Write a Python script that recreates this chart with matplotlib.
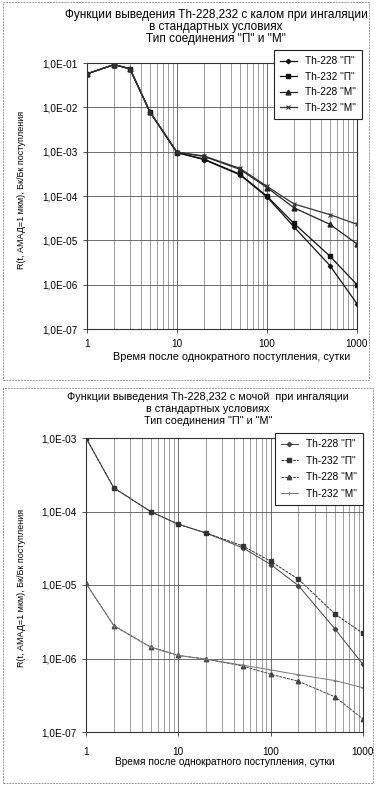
import numpy as np
import matplotlib.pyplot as plt
from matplotlib.patches import Rectangle
from matplotlib.ticker import FixedLocator, LogLocator, NullFormatter

plt.rcParams['font.family'] = ['Liberation Sans', 'DejaVu Sans']

# Data, top chart (with feces).
tTop = [1, 2, 3, 5, 10, 20, 50, 100, 200, 500, 1000]
th228P_top = [5.7e-2, 9.2e-2, 7.4e-2, 7.9e-3, 9.5e-4, 6.6e-4, 3.0e-4, 9.5e-5, 2.0e-5, 2.7e-6, 3.7e-7]
th232P_top = [5.7e-2, 9.2e-2, 7.4e-2, 7.9e-3, 9.5e-4, 6.8e-4, 3.1e-4, 9.9e-5, 2.4e-5, 4.4e-6, 1.0e-6]
th228M_top = [5.7e-2, 9.2e-2, 7.4e-2, 7.9e-3, 9.7e-4, 7.8e-4, 4.0e-4, 1.55e-4, 5.4e-5, 2.3e-5, 8.3e-6]
th232M_top = [5.7e-2, 9.2e-2, 7.4e-2, 7.9e-3, 9.7e-4, 8.0e-4, 4.2e-4, 1.65e-4, 6.6e-5, 3.8e-5, 2.3e-5]

# Data, bottom chart (with urine).
tBot = [1, 2, 5, 10, 20, 50, 100, 200, 500, 1000]
th228P_bot = [1.0e-3, 2.1e-4, 1.0e-4, 6.7e-5, 5.1e-5, 3.2e-5, 1.9e-5, 9.8e-6, 2.5e-6, 8.3e-7]
th232P_bot = [1.0e-3, 2.1e-4, 1.0e-4, 6.7e-5, 5.1e-5, 3.4e-5, 2.1e-5, 1.2e-5, 4.0e-6, 2.2e-6]
th228M_bot = [1.05e-5, 2.8e-6, 1.43e-6, 1.1e-6, 9.8e-7, 7.9e-7, 6.1e-7, 4.9e-7, 3.0e-7, 1.5e-7]
th232M_bot = [1.05e-5, 2.8e-6, 1.43e-6, 1.1e-6, 9.8e-7, 8.1e-7, 7.0e-7, 6.0e-7, 5.0e-7, 4.0e-7]

labels = ['Th-228 "П"', 'Th-232 "П"', 'Th-228 "М"', 'Th-232 "М"']
xLabel = 'Время после однократного поступления, сутки'
yLabel = 'R(t, АМАД=1 мкм), Бк/Бк поступления'
titleTop = ['Функции выведения Th-228,232 с калом при ингаляции',
            'в стандартных условиях', 'Тип соединения "П" и "М"']
titleBot = ['Функции выведения Th-228,232 с мочой  при ингаляции',
            'в стандартных условиях', 'Тип соединения "П" и "М"']

W, H = 382, 792
fig = plt.figure(figsize=(W / 100, H / 100), dpi=100)

# Chart frames (pixel boxes converted to figure fractions).
for x0, y0, x1, y1 in [(3, 2, 369, 380), (3, 388, 373, 783)]:
    fig.patches.append(Rectangle((x0 / W, 1 - y1 / H), (x1 - x0) / W, (y1 - y0) / H,
                                 transform=fig.transFigure, fill=False,
                                 ec='#999999', lw=0.7, ls=(0, (2, 1))))


def setup(ax, ymin, ymax, yticks, xpad):
    ax.set_xscale('log')
    ax.set_yscale('log')
    ax.set_xlim(1, 1000)
    ax.set_ylim(ymin, ymax)
    ax.xaxis.set_major_locator(FixedLocator([1, 10, 100, 1000]))
    ax.xaxis.set_minor_locator(LogLocator(base=10, subs=np.arange(2, 10)))
    ax.xaxis.set_minor_formatter(NullFormatter())
    ax.set_xticklabels(['1', '10', '100', '1000'])
    ax.yaxis.set_major_locator(FixedLocator(yticks))
    ax.yaxis.set_minor_locator(FixedLocator([]))
    ax.set_yticklabels(['1,0E-%02d' % int(round(-np.log10(v))) for v in yticks])
    ax.grid(True, which='major', axis='both', color='#555555', lw=0.6)
    ax.grid(True, which='minor', axis='x', color='#777777', lw=0.5)
    ax.tick_params(axis='both', which='both', labelsize=7.2, length=3, width=0.6, color='#333333')
    ax.tick_params(axis='x', which='minor', length=0)
    ax.tick_params(axis='x', pad=xpad)
    for s in ax.spines.values():
        s.set_linewidth(0.8)
        s.set_color('#333333')


def put_texts(title, ty, tx, tsize, xly, xlx, xlsize, yly):
    for i, line in enumerate(title):
        fig.text(tx / W, 1 - (ty + 12 * i) / H, line, fontsize=tsize, ha='center', va='center')
    fig.text(xlx / W, 1 - xly / H, xLabel, fontsize=xlsize, ha='center', va='center')
    fig.text(22 / W, 1 - yly / H, yLabel, fontsize=6.5, rotation=90, ha='center', va='center')


# Top chart.
ax1 = fig.add_axes([87 / W, 1 - 329 / H, 270 / W, 266 / H])
ax1.plot(tTop, th228P_top, color='#111111', lw=0.9, marker='D', ms=2.2, label=labels[0])
ax1.plot(tTop, th232P_top, color='#111111', lw=0.9, marker='s', ms=3.5, label=labels[1])
ax1.plot(tTop, th228M_top, color='#222222', lw=0.9, marker='^', ms=3.5, label=labels[2])
ax1.plot(tTop, th232M_top, color='#333333', lw=0.9, marker='x', ms=3.5, mew=0.8, label=labels[3])
setup(ax1, 1e-7, 1e-1, [1e-1, 1e-2, 1e-3, 1e-4, 1e-5, 1e-6, 1e-7], 4)
put_texts(titleTop, 15, 216, 8.5, 357, 232, 7.8, 190)
leg1 = ax1.legend(loc='upper right', bbox_to_anchor=(362 / W, 1 - 50 / H),
                  bbox_transform=fig.transFigure, fontsize=7.3, frameon=True,
                  fancybox=False, framealpha=1, edgecolor='#222222', handlelength=1.7,
                  labelspacing=0.55, borderaxespad=0, borderpad=0.6)
leg1.get_frame().set_linewidth(0.8)

# Bottom chart.
ax2 = fig.add_axes([86 / W, 1 - 732 / H, 277 / W, 294 / H])
ax2.plot(tBot, th228P_bot, color='#444444', lw=0.7, marker='D', ms=2.2, label=labels[0])
ax2.plot(tBot, th232P_bot, color='#333333', lw=0.7, ls=(0, (3, 1)), marker='s', ms=3.2, label=labels[1])
ax2.plot(tBot, th228M_bot, color='#444444', lw=0.7, ls=(0, (3, 1)), marker='^', ms=3.2, label=labels[2])
ax2.plot(tBot, th232M_bot, color='#777777', lw=0.7, marker='+', ms=3.0, mew=0.6, label=labels[3])
setup(ax2, 1e-7, 1e-3, [1e-3, 1e-4, 1e-5, 1e-6, 1e-7], 8)
put_texts(titleBot, 397, 208, 7.8, 762, 225, 7.3, 588)
leg2 = ax2.legend(loc='upper right', bbox_to_anchor=(363 / W, 1 - 433 / H),
                  bbox_transform=fig.transFigure, fontsize=7.3, frameon=True,
                  fancybox=False, framealpha=1, edgecolor='#222222', handlelength=1.7,
                  labelspacing=0.65, borderaxespad=0, borderpad=0.6)
leg2.get_frame().set_linewidth(0.8)

fig.savefig('out.png', dpi=100)
